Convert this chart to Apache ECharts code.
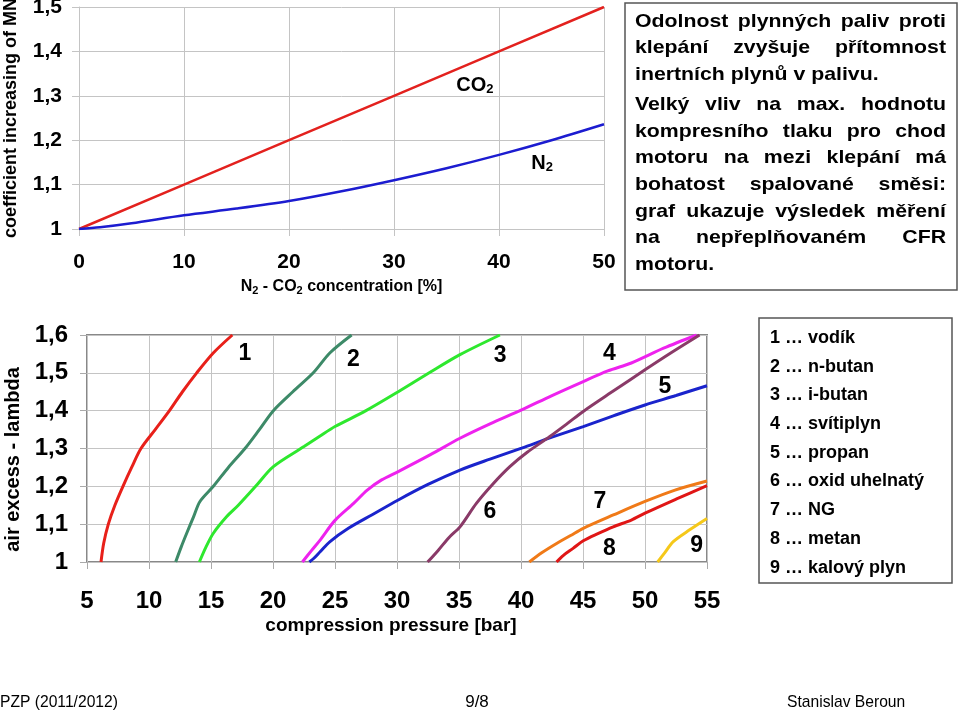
<!DOCTYPE html>
<html>
<head>
<meta charset="utf-8">
<script src="https://cdn.jsdelivr.net/npm/echarts@6/dist/echarts.min.js"></script>
<style>
html,body{margin:0;padding:0;background:#fff;}
#chart{width:960px;height:711px;}
</style>
</head>
<body>
<div id="chart"></div>
<script>
// ---- Top chart data ----
const co2Pct = [0, 10, 20, 30, 40, 50];
const co2Coef = [1, 1.1, 1.2, 1.3, 1.4, 1.5];
const n2Pct = [0, 2, 5, 10, 15, 20, 25, 30, 35, 40, 45, 50];
const n2Coef = [1, 1.004, 1.013, 1.031, 1.046, 1.063, 1.085, 1.11, 1.137, 1.167, 1.2, 1.236];
const topLabelText = ['CO{s|2}', 'N{s|2}'];
const topLabelX = [37.7, 44.1];
const topLabelY = [1.324, 1.148];

// ---- Bottom chart data: [compression pressure (bar), lambda] ----
const curve1 = [[6.13,1],[6.35,1.05],[6.72,1.1],[7.25,1.15],[7.9,1.2],[8.6,1.25],[9.35,1.3],[10.5,1.35],[11.65,1.4],[12.7,1.45],[13.85,1.5],[15.2,1.553],[16.72,1.6]];
const curve2 = [[12.15,1],[12.6,1.04],[13.04,1.076],[13.6,1.12],[14.11,1.16],[15.19,1.2],[16.4,1.25],[17.74,1.3],[18.9,1.35],[20.03,1.4],[21.6,1.45],[23.25,1.5],[24.6,1.553],[26.34,1.6]];
const curve3 = [[14.06,1],[14.6,1.04],[15.19,1.076],[16.27,1.12],[17.2,1.15],[18.6,1.2],[20.03,1.252],[22.5,1.305],[23.8,1.333],[25,1.358],[27.5,1.4],[30.1,1.45],[32.6,1.5],[35.08,1.548],[38.3,1.6]];
const curve4 = [[22.37,1],[23.1,1.03],[23.8,1.058],[25,1.11],[26.5,1.155],[27.6,1.19],[28.76,1.217],[30.1,1.239],[32.66,1.283],[35.08,1.327],[37.5,1.365],[40.05,1.402],[42.5,1.44],[45.02,1.477],[47,1.505],[48.9,1.526],[51.5,1.565],[54.17,1.6]];
const curve5 = [[22.93,1],[23.3,1.01],[23.8,1.027],[24.6,1.054],[26.08,1.089],[28,1.125],[30.1,1.164],[32.5,1.205],[35.08,1.243],[37.5,1.272],[40.05,1.301],[42.5,1.33],[45.02,1.358],[47.5,1.387],[50,1.415],[52.5,1.44],[55,1.466]];
const curve6 = [[32.47,1],[33.3,1.03],[34.2,1.065],[35.08,1.093],[36.4,1.155],[37.7,1.205],[39.1,1.252],[40.5,1.29],[42.3,1.331],[43.7,1.365],[45.02,1.398],[47.5,1.453],[50,1.508],[52.2,1.555],[54.4,1.6]];
const curve7 = [[40.67,1],[41.7,1.025],[42.87,1.049],[44,1.07],[45.02,1.089],[47.5,1.125],[50,1.16],[52.42,1.19],[55,1.214]];
const curve8 = [[42.87,1],[43.4,1.017],[44.2,1.036],[45.02,1.056],[46.2,1.075],[47.44,1.093],[48.9,1.111],[50,1.129],[52.5,1.166],[55,1.202]];
const curve9 = [[51.02,1],[51.6,1.025],[52.28,1.054],[53.6,1.085],[55,1.115]];
const curveNames = ['1','2','3','4','5','6','7','8','9'];
const curveLabelX = [17.74, 26.48, 38.31, 47.12, 51.6, 37.5, 46.37, 47.12, 54.17];
const curveLabelY = [1.552, 1.534, 1.545, 1.552, 1.464, 1.133, 1.16, 1.036, 1.042];

const legendLines = ['1 … vodík','2 … n-butan','3 … i-butan','4 … svítiplyn','5 … propan','6 … oxid uhelnatý','7 … NG','8 … metan','9 … kalový plyn'];
const noteParagraphs = [
  ['Odolnost plynných paliv proti','klepání zvyšuje přítomnost','inertních plynů v palivu.'],
  ['Velký vliv na max. hodnotu','kompresního tlaku pro chod','motoru na mezi klepání má','bohatost spalované směsi:','graf ukazuje výsledek měření','na nepřeplňovaném CFR','motoru.']
];
const footerLeft = 'PZP (2011/2012)';
const footerMid = '9/8';
const footerRight = 'Stanislav Beroun';

// ---- styling ----
const FF = '"Liberation Sans", Arial, Helvetica, sans-serif';
const curveColors = ['#e8201a','#3d8a68','#2ee82e','#ee22ee','#1a24cc','#8a3a68','#f07a18','#e01616','#f5c81a'];
const fmt = v => String(+v.toFixed(1)).replace('.', ',');

const chart = echarts.init(document.getElementById('chart'), null, {renderer: 'canvas'});

// text measurement for justified note box
const mctx = document.createElement('canvas').getContext('2d');
const noteFont = 'bold 19px ' + FF;
const noteScale = 1.12;
mctx.font = noteFont;
const graphics = [];
const boxL = 635, boxR = 946;
const lineYs = [[22,48,75],[105,132,158,185,212,238,265]];
noteParagraphs.forEach((para, pi) => {
  para.forEach((line, li) => {
    const y = lineYs[pi][li];
    const isLast = li === para.length - 1;
    if (isLast) {
      graphics.push({type:'text', x: boxL, y: y, scaleX: noteScale, style:{text: line, font: noteFont, fill:'#000', verticalAlign:'middle'}});
    } else {
      const words = line.split(' ');
      const widths = words.map(w => mctx.measureText(w).width * noteScale);
      const sum = widths.reduce((a,b)=>a+b,0);
      const gap = (boxR - boxL - sum) / (words.length - 1);
      let x = boxL;
      words.forEach((w, wi) => {
        graphics.push({type:'text', x: x, y: y, scaleX: noteScale, style:{text: w, font: noteFont, fill:'#000', verticalAlign:'middle'}});
        x += widths[wi] + gap;
      });
    }
  });
});
graphics.push({type:'rect', shape:{x:625, y:3, width:332, height:287}, style:{fill:'none', stroke:'#555', lineWidth:1.5}});
graphics.push({type:'rect', shape:{x:759, y:318, width:193, height:265}, style:{fill:'none', stroke:'#555', lineWidth:1.5}});
legendLines.forEach((t, i) => {
  graphics.push({type:'text', x: 770, y: 338 + i * 28.7, style:{text: t, font: 'bold 18px ' + FF, fill:'#000', verticalAlign:'middle'}});
});
graphics.push({type:'text', x: 0, y: 702, scaleX: 0.92, style:{text: footerLeft, font: '17px ' + FF, fill:'#000', verticalAlign:'middle'}});
graphics.push({type:'text', x: 477, y: 702, style:{text: footerMid, font: '17px ' + FF, fill:'#000', align:'center', verticalAlign:'middle'}});
graphics.push({type:'text', x: 787, y: 702, scaleX: 0.92, style:{text: footerRight, font: '17px ' + FF, fill:'#000', verticalAlign:'middle'}});

const gridGray = '#c4c4c4';
const curves = [curve1, curve2, curve3, curve4, curve5, curve6, curve7, curve8, curve9];
const labelCommon = {show: true, position: 'inside', formatter: p => p.data[2], color: '#000', fontWeight: 'bold', fontFamily: FF,
  textBorderWidth: 0, textBorderColor: 'transparent', opacity: 1};

const option = {
  animation: false,
  backgroundColor: '#fff',
  textStyle: {fontFamily: FF},
  grid: [
    {left: 79, right: 356, top: 7, bottom: 482, show: false, containLabel: false, outerBoundsMode: 'none'},
    {left: 87, right: 253, top: 335, bottom: 149, show: true, borderColor: '#888', borderWidth: 2, containLabel: false, outerBoundsMode: 'none'}
  ],
  xAxis: [
    {gridIndex: 0, type: 'value', min: 0, max: 50, interval: 10,
     axisLine: {show: true, lineStyle: {color: gridGray, width: 1}},
     axisTick: {show: true, length: 7, lineStyle: {color: gridGray}},
     splitLine: {show: true, lineStyle: {color: gridGray, width: 1}},
     axisLabel: {color: '#000', fontSize: 21, fontWeight: 'bold', fontFamily: FF, margin: 23},
     name: 'N{s|2} - CO{s|2} concentration [%]', nameLocation: 'middle', nameGap: 49,
     nameTextStyle: {color: '#000', fontSize: 16, fontWeight: 'bold', fontFamily: FF,
       rich: {s: {fontSize: 11, fontWeight: 'bold', fontFamily: FF, color: '#000', padding: [7,0,0,0]}}}},
    {gridIndex: 1, type: 'value', min: 5, max: 55, interval: 5,
     axisLine: {show: false},
     axisTick: {show: true, length: 7, lineStyle: {color: '#aaa'}},
     splitLine: {show: true, lineStyle: {color: gridGray, width: 1}},
     axisLabel: {color: '#000', fontSize: 24, fontWeight: 'bold', fontFamily: FF, margin: 27},
     name: 'compression pressure [bar]', nameLocation: 'middle', nameGap: 54,
     nameTextStyle: {color: '#000', fontSize: 19, fontWeight: 'bold', fontFamily: FF, padding: [0,12,0,0]}}
  ],
  yAxis: [
    {gridIndex: 0, type: 'value', min: 1, max: 1.5, interval: 0.1,
     axisLine: {show: true, lineStyle: {color: gridGray, width: 1}},
     axisTick: {show: true, length: 7, lineStyle: {color: gridGray}},
     splitLine: {show: true, lineStyle: {color: gridGray, width: 1}},
     axisLabel: {color: '#000', fontSize: 21, fontWeight: 'bold', fontFamily: FF, margin: 17, formatter: fmt},
     name: 'coefficient increasing of MN', nameLocation: 'middle', nameGap: 59,
     nameTextStyle: {color: '#000', fontSize: 18, fontWeight: 'bold', fontFamily: FF}},
    {gridIndex: 1, type: 'value', min: 1, max: 1.6, interval: 0.1,
     axisLine: {show: false},
     axisTick: {show: true, length: 7, lineStyle: {color: '#aaa'}},
     splitLine: {show: true, lineStyle: {color: gridGray, width: 1}},
     axisLabel: {color: '#000', fontSize: 24, fontWeight: 'bold', fontFamily: FF, margin: 19, formatter: fmt},
     name: 'air excess - lambda', nameLocation: 'middle', nameGap: 62,
     nameTextStyle: {color: '#000', fontSize: 20, fontWeight: 'bold', fontFamily: FF, padding: [0,22,0,0]}}
  ],
  series: [
    {type: 'line', xAxisIndex: 0, yAxisIndex: 0, data: co2Pct.map((x,i)=>[x, co2Coef[i]]),
     showSymbol: false, lineStyle: {color: '#e3211e', width: 2.5}, silent: true},
    {type: 'line', xAxisIndex: 0, yAxisIndex: 0, data: n2Pct.map((x,i)=>[x, n2Coef[i]]), smooth: 0.3,
     showSymbol: false, lineStyle: {color: '#1c1cd0', width: 2.5}, silent: true},
    {type: 'scatter', xAxisIndex: 0, yAxisIndex: 0, symbolSize: 1, itemStyle: {color: '#fff', opacity: 0}, silent: true,
     data: topLabelText.map((t,i)=>[topLabelX[i], topLabelY[i], t]),
     label: Object.assign({}, labelCommon, {fontSize: 20,
       rich: {s: {fontSize: 13, fontWeight: 'bold', fontFamily: FF, color: '#000', padding: [9,0,0,0]}}})},
    ...curves.map((c, i) => ({
      type: 'line', xAxisIndex: 1, yAxisIndex: 1, data: c, smooth: 0.3, showSymbol: false, silent: true,
      lineStyle: {color: curveColors[i], width: 3}
    })),
    {type: 'scatter', xAxisIndex: 1, yAxisIndex: 1, symbolSize: 1, itemStyle: {color: '#fff', opacity: 0}, silent: true,
     data: curveNames.map((t,i)=>[curveLabelX[i], curveLabelY[i], t]),
     label: Object.assign({}, labelCommon, {fontSize: 23})}
  ],
  graphic: graphics
};
chart.setOption(option);
</script>
</body>
</html>
